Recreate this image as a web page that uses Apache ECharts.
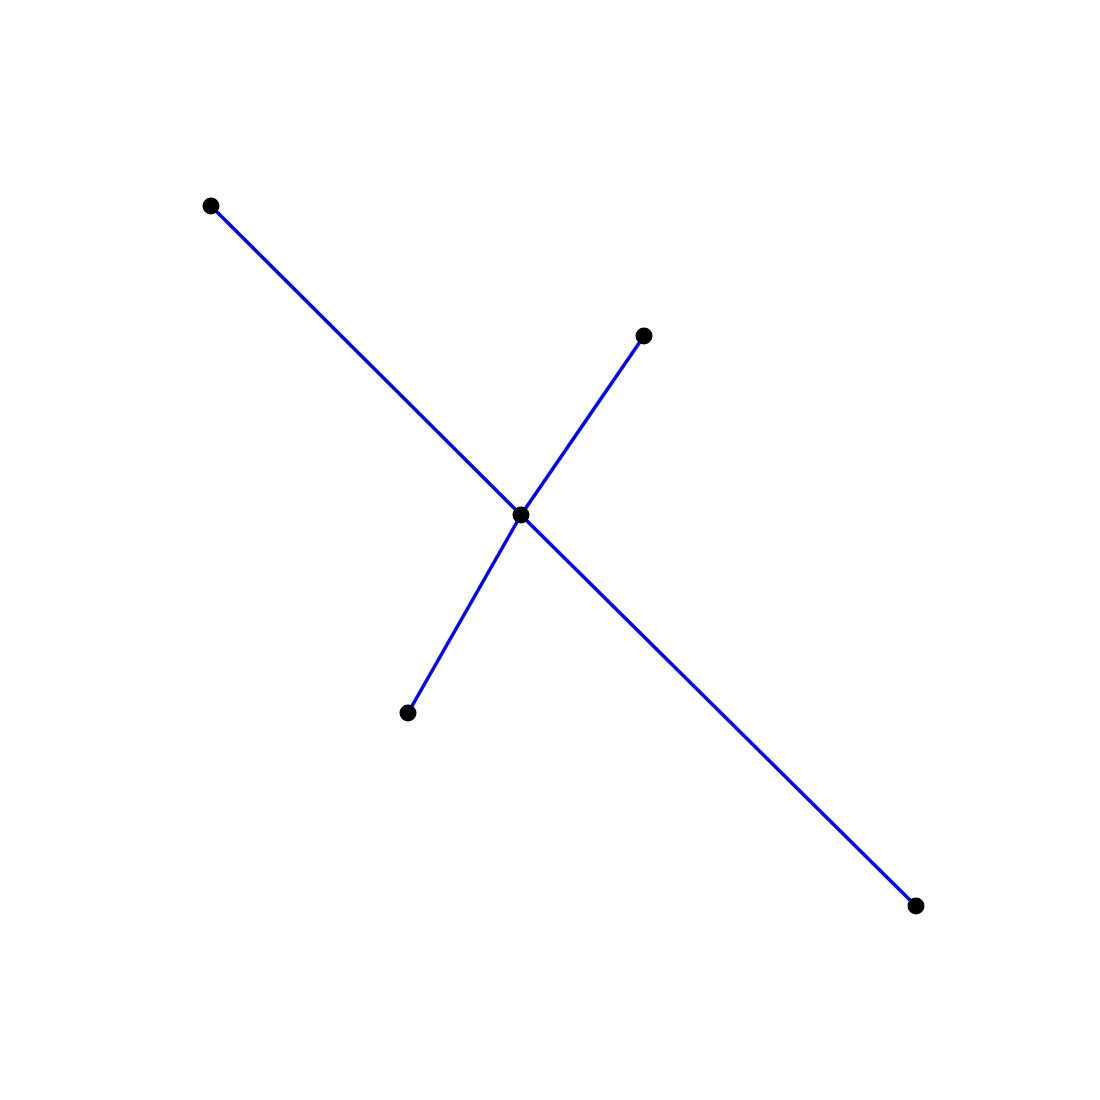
<!DOCTYPE html>
<html lang="en">
<head>
    <meta charset="UTF-8">
    <script src="https://cdn.jsdelivr.net/npm/echarts@6/dist/echarts.min.js"></script>
    <title>Star graph</title>
    <style>
        html, body { margin: 0; padding: 0; background: #fff; }
        #chart { width: 1100px; height: 1100px; }
    </style>
</head>
<body>
<div id="chart"></div>
<script>
    // node positions (x, y) in plot units, y growing downward
    let nodeX = [211, 644, 521, 408, 916]
    let nodeY = [206, 336, 515, 713, 906]
    // edges as [source, target] index pairs
    let edgeFrom = [0, 2, 1, 2]
    let edgeTo = [2, 4, 2, 3]

    let nodes = []
    for (let i = 0; i < nodeX.length; i++) {
        nodes.push({ name: 'n' + i, value: [nodeX[i], nodeY[i]] })
    }
    let links = []
    for (let i = 0; i < edgeFrom.length; i++) {
        links.push({ source: edgeFrom[i], target: edgeTo[i] })
    }

    var chart = echarts.init(document.getElementById('chart'))
    chart.setOption({
        animation: false,
        grid: { left: 0, right: 0, top: 0, bottom: 0 },
        xAxis: { type: 'value', min: 0, max: 1100, show: false },
        yAxis: { type: 'value', min: 0, max: 1100, inverse: true, show: false },
        series: [{
            type: 'graph',
            coordinateSystem: 'cartesian2d',
            data: nodes,
            links: links,
            symbol: 'circle',
            symbolSize: 17,
            itemStyle: { color: '#000000' },
            lineStyle: { color: '#0000ff', width: 3.5, opacity: 1 },
            label: { show: false },
            emphasis: { disabled: true }
        }]
    })
</script>
</body>
</html>
